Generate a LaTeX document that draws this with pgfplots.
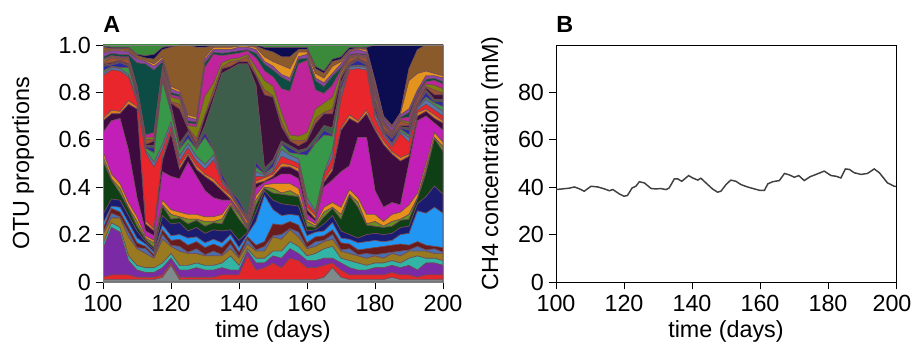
\documentclass[border=0pt]{standalone}
\usepackage{fontspec}
\setmainfont{Liberation Sans}
\usepackage{pgfplots}
\usepackage{pgfplotstable}
\pgfplotsset{compat=1.18}
\newcommand\fs{\fontsize{17.5pt}{20pt}\selectfont}
\definecolor{cA}{HTML}{7F8A8C}
\definecolor{cB}{HTML}{E3262A}
\definecolor{cC}{HTML}{7B2AA6}
\definecolor{cD}{HTML}{33B5A5}
\definecolor{cE}{HTML}{9A7A20}
\definecolor{cU1}{HTML}{4A6FB0}
\definecolor{cT1}{HTML}{6A1B1B}
\definecolor{cF}{HTML}{2196F3}
\definecolor{cG}{HTML}{1B1B70}
\definecolor{cH}{HTML}{0F3F14}
\definecolor{cU2}{HTML}{6B8E23}
\definecolor{cT2}{HTML}{E8901C}
\definecolor{cI}{HTML}{C21FB8}
\definecolor{cK1}{HTML}{3E0B40}
\definecolor{cU3}{HTML}{E07B20}
\definecolor{cJ}{HTML}{E8262B}
\definecolor{cT3}{HTML}{5577AA}
\definecolor{cL}{HTML}{38984A}
\definecolor{cU4}{HTML}{2A2AA0}
\definecolor{cM}{HTML}{3C5E4B}
\definecolor{cK2}{HTML}{40103D}
\definecolor{cU5}{HTML}{A0522D}
\definecolor{cT4}{HTML}{7F7F10}
\definecolor{cN}{HTML}{C0249A}
\definecolor{cO}{HTML}{0D4B45}
\definecolor{cU6}{HTML}{8E44AD}
\definecolor{cP}{HTML}{E3941E}
\definecolor{cQ}{HTML}{8B5A2B}
\definecolor{cR}{HTML}{0C0C50}
\definecolor{cS}{HTML}{3B8A3B}
\definecolor{outl}{HTML}{6E4A55}
\definecolor{ch4}{HTML}{404040}

\pgfplotstableread{
x A B C D E U1 T1 F G H U2 T2 I K1 U3 J T3 L U4 M K2 U5 T4 N O U6 P Q R S
100 0.01 0.01 0.12 0.02 0.04 0.005 0.02 0.02 0.04 0.225 0.02 0.02 0.08 0.05 0.01 0.18 0.01 0.01 0.02 0.005 0.005 0.005 0.01 0.005 0.01 0.015 0.005 0.02 0.005 0.02
102.5 0.01 0.02 0.20 0.02 0.02 0.02 0.02 0.01 0.03 0.08 0.005 0.02 0.225 0.03 0.015 0.17 0.01 0.005 0.005 0.005 0.005 0.02 0.005 0.005 0.01 0.01 0.005 0.005 0.005 0.03
105 0.01 0.02 0.18 0.02 0.04 0.005 0.02 0.02 0.03 0.03 0.02 0.02 0.275 0.02 0.01 0.17 0.01 0.005 0.02 0.005 0.005 0.005 0.005 0.005 0.01 0.015 0.005 0.005 0.005 0.03
107.5 0.01 0.02 0.06 0.02 0.08 0.02 0.02 0.02 0.03 0.03 0.005 0.02 0.22 0.195 0.015 0.10 0.01 0.03 0.005 0.005 0.005 0.02 0.005 0.005 0.01 0.01 0.005 0.01 0.005 0.03
110 0.01 0.01 0.03 0.02 0.07 0.005 0.02 0.02 0.03 0.02 0.02 0.02 0.08 0.375 0.01 0.02 0.01 0.01 0.02 0.005 0.005 0.005 0.005 0.005 0.10 0.015 0.005 0.01 0.005 0.06
112.5 0.01 0.01 0.02 0.02 0.06 0.02 0.01 0.01 0.01 0.01 0.005 0.01 0.02 0.03 0.015 0.285 0.01 0.01 0.005 0.005 0.005 0.02 0.01 0.01 0.30 0.01 0.005 0.01 0.01 0.065
115 0.01 0.01 0.02 0.02 0.04 0.005 0.01 0.01 0.01 0.01 0.02 0.01 0.02 0.02 0.01 0.26 0.02 0.04 0.02 0.01 0.02 0.005 0.01 0.02 0.265 0.015 0.01 0.02 0.02 0.06
117.5 0.02 0.01 0.03 0.02 0.10 0.02 0.02 0.02 0.04 0.04 0.005 0.02 0.12 0.05 0.015 0.03 0.02 0.265 0.005 0.01 0.01 0.02 0.01 0.01 0.02 0.01 0.01 0.03 0.01 0.03
120 0.07 0.01 0.02 0.02 0.03 0.005 0.02 0.02 0.05 0.02 0.02 0.02 0.14 0.18 0.01 0.02 0.02 0.04 0.02 0.01 0.01 0.005 0.02 0.01 0.01 0.015 0.01 0.165 0.005 0.025
122.5 0.01 0.01 0.03 0.02 0.06 0.02 0.03 0.02 0.05 0.02 0.005 0.02 0.14 0.04 0.015 0.02 0.02 0.03 0.005 0.02 0.145 0.02 0.02 0.01 0.01 0.01 0.01 0.19 0 0.02
125 0.01 0.01 0.03 0.02 0.05 0.005 0.03 0.03 0.03 0.03 0.02 0.02 0.22 0.03 0.01 0.02 0.02 0.02 0.02 0.01 0.01 0.005 0.01 0.01 0.01 0.015 0.01 0.295 0 0.02
127.5 0.01 0.01 0.04 0.02 0.04 0.02 0.03 0.02 0.04 0.03 0.005 0.02 0.16 0.03 0.015 0.02 0.02 0.03 0.005 0.01 0.01 0.02 0.05 0.01 0.01 0.01 0.01 0.295 0.01 0.02
130 0.01 0.01 0.03 0.02 0.04 0.005 0.03 0.02 0.04 0.03 0.02 0.02 0.11 0.06 0.01 0.02 0.02 0.115 0.02 0.03 0.04 0.005 0.08 0.12 0.02 0.015 0.01 0.04 0.01 0.02
132.5 0.01 0.01 0.03 0.02 0.04 0.02 0.03 0.02 0.04 0.03 0.005 0.02 0.08 0.065 0.015 0.08 0.02 0.02 0.005 0.21 0.02 0.02 0.03 0.12 0.01 0.01 0.01 0.005 0.005 0.02
135 0.01 0.02 0.03 0.02 0.03 0.005 0.03 0.02 0.05 0.03 0.02 0.02 0.06 0.04 0.01 0.02 0.01 0.01 0.02 0.425 0.02 0.005 0.02 0.03 0.01 0.015 0.01 0.005 0.005 0.02
137.5 0.01 0.02 0.02 0.06 0.03 0.02 0.02 0.02 0.02 0.10 0.005 0.01 0.01 0.005 0.015 0.005 0.005 0.005 0.005 0.515 0.01 0.02 0.01 0.02 0.01 0.01 0.01 0.005 0.005 0.02
140 0.01 0.02 0.02 0.02 0.03 0.005 0.02 0.02 0.03 0.09 0.02 0.005 0.005 0.005 0.01 0.005 0.005 0.005 0.02 0.575 0.01 0.005 0.01 0.02 0.01 0.015 0.005 0.003 0.002 0.02
142.5 0.01 0.10 0.02 0.01 0.02 0.02 0.01 0.01 0.01 0.01 0.005 0.005 0.005 0.005 0.015 0.005 0.005 0.005 0.005 0.645 0.01 0.02 0.01 0.015 0.005 0.01 0.005 0.003 0.002 0.02
145 0.01 0.04 0.03 0.02 0.03 0.005 0.02 0.10 0.04 0.03 0.02 0.02 0.03 0.02 0.01 0.02 0.02 0.02 0.02 0.325 0.04 0.005 0.03 0.04 0.02 0.015 0.01 0.005 0.005 0.02
147.5 0.01 0.05 0.02 0.02 0.03 0.02 0.02 0.195 0.02 0.01 0.005 0.01 0.01 0.005 0.015 0.005 0.005 0.005 0.005 0.02 0.31 0.02 0.04 0.04 0.03 0.01 0.02 0.03 0.01 0.03
150 0.01 0.07 0.03 0.02 0.06 0.005 0.05 0.06 0.04 0.03 0.02 0.02 0.02 0.01 0.01 0.01 0.01 0.01 0.02 0.01 0.265 0.005 0.04 0.04 0.03 0.015 0.02 0.04 0.02 0.03
152.5 0.01 0.05 0.04 0.03 0.05 0.02 0.04 0.04 0.05 0.04 0.005 0.04 0.04 0.03 0.015 0.03 0.03 0.02 0.005 0.01 0.06 0.02 0.04 0.10 0.05 0.01 0.04 0.035 0.04 0.03
155 0.01 0.09 0.04 0.03 0.05 0.005 0.03 0.03 0.04 0.04 0.02 0.03 0.04 0.03 0.01 0.02 0.02 0.01 0.02 0.01 0.02 0.005 0.02 0.185 0.04 0.015 0.04 0.05 0.04 0.03
157.5 0.01 0.08 0.03 0.03 0.04 0.02 0.03 0.04 0.04 0.04 0.005 0.03 0.04 0.03 0.015 0.02 0.02 0.02 0.005 0.01 0.02 0.02 0.02 0.305 0.02 0.01 0.02 0.01 0.01 0.03
160 0.01 0.05 0.03 0.02 0.03 0.005 0.02 0.03 0.02 0.02 0.02 0.01 0.02 0.02 0.01 0.02 0.02 0.18 0.02 0.01 0.03 0.005 0.03 0.305 0.01 0.015 0.01 0.01 0.01 0.03
162.5 0.01 0.05 0.03 0.03 0.03 0.02 0.02 0.02 0.01 0.01 0.005 0.01 0.01 0.01 0.015 0.01 0.01 0.285 0.005 0.02 0.06 0.02 0.04 0.08 0.04 0.01 0.02 0.02 0.01 0.11
165 0.02 0.05 0.03 0.04 0.03 0.005 0.02 0.02 0.03 0.03 0.02 0.02 0.085 0.02 0.01 0.02 0.01 0.16 0.02 0.02 0.05 0.005 0.04 0.04 0.03 0.015 0.02 0.02 0.01 0.13
167.5 0.06 0.02 0.02 0.05 0.03 0.02 0.02 0.03 0.03 0.03 0.005 0.02 0.095 0.04 0.015 0.04 0.03 0.06 0.005 0.03 0.06 0.02 0.05 0.05 0.04 0.01 0.03 0.02 0.01 0.08
170 0.02 0.03 0.03 0.02 0.03 0.005 0.03 0.02 0.03 0.05 0.02 0.03 0.15 0.175 0.01 0.12 0.02 0.02 0.02 0.01 0.02 0.005 0.02 0.01 0.01 0.015 0.01 0.01 0.01 0.07
172.5 0.01 0.02 0.03 0.03 0.03 0.02 0.02 0.02 0.02 0.165 0.005 0.02 0.10 0.20 0.015 0.19 0.01 0.005 0.005 0.005 0.005 0.02 0.005 0.005 0.005 0.01 0.005 0.005 0.01 0.03
175 0.01 0.02 0.02 0.03 0.03 0.005 0.02 0.03 0.02 0.13 0.02 0.02 0.255 0.06 0.01 0.22 0.01 0.005 0.02 0.005 0.005 0.005 0.005 0.005 0.005 0.015 0.005 0.003 0.002 0.03
177.5 0.01 0.02 0.02 0.02 0.03 0.02 0.02 0.03 0.03 0.04 0.005 0.04 0.325 0.10 0.015 0.17 0.01 0.005 0.005 0.005 0.005 0.02 0.005 0.005 0.005 0.01 0.01 0.005 0.005 0.03
180 0.01 0.02 0.03 0.02 0.03 0.005 0.03 0.03 0.03 0.03 0.02 0.03 0.10 0.255 0.01 0.04 0.02 0.01 0.02 0.01 0.01 0.005 0.02 0.02 0.01 0.015 0.01 0.01 0.15 0.02
182.5 0.01 0.02 0.03 0.02 0.02 0.02 0.03 0.02 0.03 0.03 0.005 0.02 0.06 0.265 0.015 0.02 0.01 0.005 0.005 0.005 0.005 0.02 0.005 0.005 0.005 0.01 0.005 0.005 0.30 0.02
185 0.02 0.02 0.03 0.02 0.03 0.005 0.03 0.02 0.03 0.03 0.02 0.03 0.05 0.205 0.01 0.02 0.01 0.005 0.02 0.005 0.005 0.005 0.005 0.005 0.005 0.015 0.005 0.005 0.34 0.02
187.5 0.01 0.02 0.03 0.02 0.03 0.02 0.03 0.04 0.03 0.03 0.005 0.03 0.03 0.185 0.015 0.10 0.01 0.01 0.005 0.005 0.005 0.02 0.005 0.005 0.005 0.01 0.005 0.005 0.285 0.02
190 0.01 0.02 0.04 0.03 0.03 0.005 0.02 0.05 0.03 0.03 0.02 0.04 0.175 0.03 0.01 0.05 0.02 0.01 0.02 0.01 0.01 0.005 0.01 0.02 0.02 0.015 0.12 0.05 0.10 0.02
192.5 0.01 0.01 0.03 0.06 0.02 0.02 0.02 0.13 0.03 0.02 0.005 0.02 0.305 0.02 0.015 0.01 0.01 0.005 0.005 0.005 0.005 0.02 0.005 0.01 0.01 0.01 0.07 0.10 0.02 0.02
195 0.01 0.02 0.05 0.02 0.03 0.005 0.02 0.135 0.07 0.10 0.02 0.02 0.20 0.02 0.01 0.02 0.02 0.01 0.02 0.01 0.01 0.005 0.01 0.01 0.01 0.015 0.02 0.11 0 0.02
197.5 0.01 0.02 0.05 0.02 0.02 0.02 0.01 0.165 0.09 0.20 0.005 0.02 0.04 0.02 0.015 0.02 0.02 0.01 0.005 0.01 0.02 0.02 0.02 0.02 0.01 0.01 0.01 0.12 0 0.02
200 0.01 0.02 0.04 0.02 0.03 0.005 0.02 0.145 0.08 0.18 0.02 0.02 0.05 0.03 0.01 0.02 0.02 0.02 0.02 0.01 0.02 0.005 0.02 0.02 0.01 0.015 0.01 0.13 0 0.02
}\otu

\pgfplotsset{
  panel/.style={
    scale only axis, width=255pt, height=177.75pt,
    xmin=100, xmax=200, xtick={100,120,...,200},
    tick align=outside, xtick pos=bottom, ytick pos=left,
    major tick length=5.5pt,
    tick style={black, line width=0.6pt},
    tick label style={font=\fs},
    /pgf/number format/assume math mode=true,
    xticklabel style={yshift=-1pt},
  }
}

\begin{document}
\begin{tikzpicture}
\useasboundingbox (0,0) rectangle (684.75pt,264pt);
\begin{axis}[panel, name=a, at={(77.25pt,52.5pt)}, anchor=south west,
  ymin=0, ymax=1, ytick={0,0.2,0.4,0.6,0.8,1}, yticklabels={0,0.2,0.4,0.6,0.8,1.0},
  stack plots=y, axis on top, axis line style={gray, line width=0.6pt},
  every axis plot/.append style={draw=outl, line width=0.45pt}]
\foreach \c in {A,B,C,D,E,U1,T1,F,G,H,U2,T2,I,K1,U3,J,T3,L,U4,M,K2,U5,T4,N,O,U6,P,Q,R,S}{
  \edef\tmp{\noexpand\addplot[fill=c\c] table[x=x,y=\c] {\noexpand\otu} \noexpand\closedcycle;}
  \tmp
}
\end{axis}
\node[font=\fs\bfseries, anchor=base west, inner sep=0] at ([yshift=9pt]a.north west) {A};
\node[font=\fs, rotate=90] at ([xshift=-60pt]a.west) {OTU proportions};
\node[font=\fs, anchor=base] at ([yshift=-42pt]a.south) {time (days)};

\begin{axis}[panel, name=b, at={(417pt,52.5pt)}, anchor=south west,
  ymin=0, ymax=100, ytick={0,20,40,60,80}, axis line style={black, line width=0.6pt},
  xticklabels={100,120,140,160,180,\makebox[0pt]{200\hspace*{6pt}}}]
\addplot[color=ch4, line width=1.1pt] coordinates {
(100,39.0) (102,39.3) (104,39.6) (105.4,40.1) (106.9,39.3) (108.3,38.3) (110.3,40.4)
(112.3,40.1) (114.2,39.3) (115.7,38.5) (116.7,39.0) (118.6,37.2) (120,36.2) (121,36.5)
(122.4,39.7) (123.5,40.4) (124.5,42.3) (126,41.8) (128,39.4) (129.4,39.3) (130.9,39.4)
(132.4,39.0) (133.3,39.7) (134.8,43.5) (135.8,43.5) (137,42.5) (139,44.9) (140.2,43.9)
(141.7,43.0) (142.6,43.8) (144.1,41.8) (146,39.3) (147.5,37.9) (148.5,38.3) (150,41.1)
(151.4,43.0) (152.9,42.5) (154.4,41.1) (156.3,40.1) (158.3,39.3) (159.8,38.7) (161.3,38.7)
(162.3,41.4) (163.7,42.3) (165.7,42.8) (167.2,45.8) (168.6,45.2) (170.1,44.2) (171.4,44.9)
(173,42.8) (174.7,44.4) (176.5,45.4) (178.9,46.8) (180.9,44.9) (182.4,44.6) (183.8,43.9)
(185.1,47.7) (186.3,47.5) (187.7,46.1) (189.7,45.4) (191.6,45.8) (193.6,47.7) (195.1,46.1)
(197.5,41.8) (199.5,40.4) (200,40.3)
};
\end{axis}
\node[font=\fs\bfseries, anchor=base west, inner sep=0] at ([yshift=9pt]b.north west) {B};
\node[font=\fs, rotate=90] at ([xshift=-48pt]b.west) {CH4 concentration (mM)};
\node[font=\fs, anchor=base] at ([yshift=-42pt]b.south) {time (days)};
\end{tikzpicture}
\end{document}
